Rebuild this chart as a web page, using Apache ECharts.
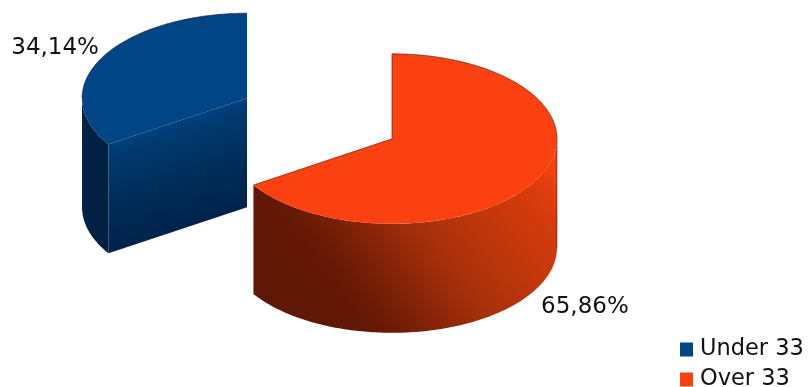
<!DOCTYPE html>
<html>
<head>
<meta charset="utf-8">
<style>html,body{margin:0;padding:0;background:#fff;overflow:hidden}#c{width:809px;height:387px}</style>
<script src="https://cdn.jsdelivr.net/npm/echarts@6/dist/echarts.min.js"></script>
</head>
<body>
<div id="c"></div>
<script>
// Share of respondents per age group
const categories = ['Under 33', 'Over 33'];
const shares = [34.14, 65.86];
const sliceColors = ['#004585', '#fb4110'];

// Oblique projection of the pie
const CENTER = [319.5, 118.5];
const RX = 165, RY = 85, DEPTH = 109, EXPLODE = 0.5;
const FONT = '"DejaVu Sans", Verdana, sans-serif';

const labelOffset = [[-47, -10], [48, 19]];
const total = shares.reduce((a, b) => a + b, 0);
const orderedAngles = [];
let sweep = 0;
[1, 0].forEach(i => {
  orderedAngles[i] = [sweep, sweep + shares[i] / total * Math.PI * 2];
  sweep = orderedAngles[i][1];
});

function rim(c, t) { return [c[0] + RX * Math.sin(t), c[1] - RY * Math.cos(t)]; }
function arc(c, a, b, dy) {
  const pts = [], n = Math.max(2, Math.ceil(Math.abs(b - a) * 60));
  for (let i = 0; i <= n; i++) {
    const p = rim(c, a + (b - a) * i / n);
    pts.push([p[0], p[1] + dy]);
  }
  return pts;
}
function grad(x, y, x2, y2, stops) {
  return { type: 'linear', global: true, x, y, x2, y2,
    colorStops: stops.map(s => ({ offset: s[0], color: s[1] })) };
}

// Side shading for each slice, light falling from the upper right
const shading = [
  { wall: c => grad(c[0] + 32, c[1] + 99, c[0], c[1],
      [[0, '#00224a'], [0.5, '#002f5c'], [0.9, '#003b72'], [1, '#004280']]),
    rimFill: c => grad(c[0] - 165, 0, c[0] - 135, 0, [[0, '#002346'], [1, '#001f3e']]) },
  { rimFill: c => grad(c[0] - 62, c[1] + 191, c[0] + 168, c[1] + 21,
      [[0, '#601705'], [0.12, '#641806'], [0.25, '#7a2007'], [0.45, '#a42f0a'], [0.7, '#c5380b'],
       [0.85, '#d53c0c'], [0.95, '#f0400f'], [1, '#fb4110']]) }
];

// Dark silhouette along the back of the slice's top face
function backEdge(i, c, a, b) {
  if (i === 1) {
    const r = rim(c, Math.PI / 2);
    return [rim(c, b), c].concat(arc(c, a, Math.PI / 2, 0), [[r[0], r[1] + DEPTH]]);
  }
  return arc(c, Math.PI * 1.5, b, 0);
}

function renderSlice(i) {
  const [a, b] = orderedAngles[i];
  const mid = (a + b) / 2;
  const c = [CENTER[0] + EXPLODE * RX * Math.sin(mid), CENTER[1] - EXPLODE * RY * Math.cos(mid)];
  const children = [];

  // Outer wall: only the front half of the ellipse faces the viewer
  const fa = Math.max(a, Math.PI / 2), fb = Math.min(b, Math.PI * 1.5);
  if (fb > fa) {
    const topEdge = arc(c, fa, fb, 0), botEdge = arc(c, fb, fa, DEPTH);
    children.push({ type: 'polygon', shape: { points: topEdge.concat(botEdge) },
      style: { fill: shading[i].rimFill(c) } });
  }
  // Cut wall that faces forward
  if (shading[i].wall) {
    const p = rim(c, a);
    children.push({ type: 'polygon',
      shape: { points: [c, p, [p[0], p[1] + DEPTH], [c[0], c[1] + DEPTH]] },
      style: { fill: shading[i].wall(c) } });
  }
  // Top face
  children.push({ type: 'polygon',
    shape: { points: [c].concat(arc(c, a, b, 0)) },
    style: { fill: sliceColors[i] } });
  children.push({ type: 'polyline',
    shape: { points: backEdge(i, c, a, b) },
    style: { fill: 'none', stroke: 'rgba(50,15,10,0.55)', lineWidth: 1 } });

  // Value label
  const anchor = rim(c, mid);
  const bottom = Math.cos(mid) < 0 ? DEPTH : 0;
  children.push({ type: 'text',
    style: { x: anchor[0] + labelOffset[i][0], y: anchor[1] + bottom + labelOffset[i][1],
      text: shares[i].toFixed(2).replace('.', ',') + '%',
      font: '23px ' + FONT, fill: '#111', align: 'center', verticalAlign: 'middle' } });
  return { type: 'group', children };
}

const chart = echarts.init(document.getElementById('c'), null, { renderer: 'canvas' });
chart.setOption({
  animation: false,
  backgroundColor: '#fff',
  legend: {
    orient: 'vertical', left: 680, top: 338, height: 80, itemGap: 7,
    itemWidth: 13, itemHeight: 14, icon: 'rect', padding: 0,
    textStyle: { fontFamily: FONT, fontSize: 22.5, lineHeight: 23, color: '#111', padding: [0, 0, 0, 2] },
    data: categories
  },
  series: categories.map((name, i) => ({
    type: 'custom', name,
    coordinateSystem: 'none',
    itemStyle: { color: sliceColors[i] },
    data: [shares[i]],
    renderItem: () => renderSlice(i)
  }))
});
</script>
</body>
</html>
